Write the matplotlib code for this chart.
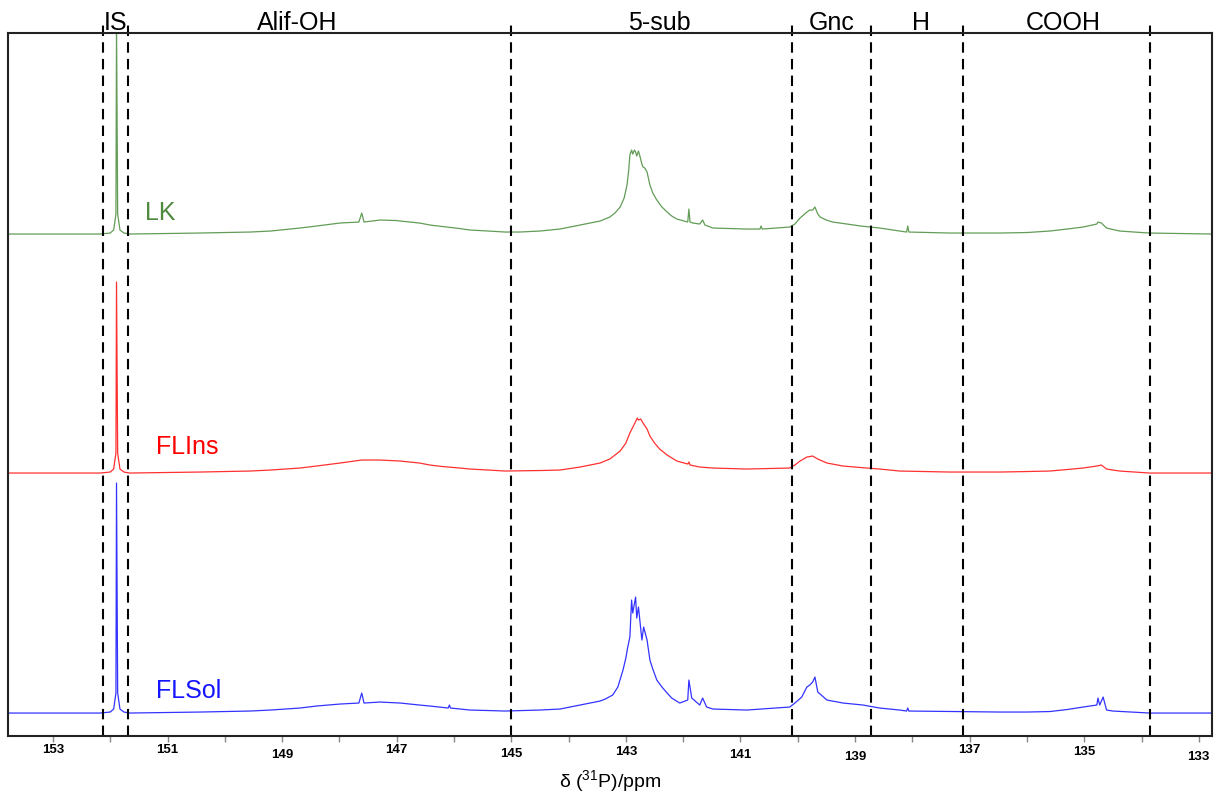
import matplotlib.pyplot as plt
import matplotlib.transforms as mtransforms

plt.rcParams['font.family'] = ['Liberation Sans', 'DejaVu Sans']
plt.rcParams['mathtext.fontset'] = 'custom'
plt.rcParams['mathtext.rm'] = 'Liberation Sans'
plt.rcParams['mathtext.it'] = 'Liberation Sans:italic'

# LK spectrum (ppm, height above its baseline)
lk_ppm = [153.78, 152.18, 152.00, 151.94, 151.90, 151.89, 151.87, 151.83, 151.76, 151.66,
          150.43, 150.00, 149.56, 149.20, 148.69, 148.40, 147.99, 147.66, 147.61, 147.57,
          147.29, 147.00, 146.94, 146.60, 146.42, 146.20, 145.90, 145.72, 145.40, 145.11,
          144.85, 144.50, 144.15, 143.80, 143.45, 143.28, 143.19, 143.10, 143.03, 142.98,
          142.95, 142.93, 142.90, 142.88, 142.85, 142.83, 142.81, 142.78, 142.76, 142.72,
          142.70, 142.67, 142.63, 142.58, 142.53, 142.46, 142.37, 142.28, 142.20, 142.11,
          141.92, 141.90, 141.88, 141.83, 141.71, 141.66, 141.62, 141.48, 140.89, 140.66,
          140.64, 140.62, 140.14, 140.05, 139.96, 139.90, 139.84, 139.79, 139.74, 139.70,
          139.65, 139.61, 139.50, 139.39, 139.14, 138.90, 138.57, 138.22, 138.10, 138.08,
          138.06, 137.35, 136.47, 136.00, 135.60, 135.30, 135.02, 134.78, 134.76, 134.70,
          134.61, 134.50, 134.38, 134.00, 133.86, 132.77]
lk_int = [0, 0, 1, 4, 20, 210, 20, 4, 1, 0,
          1, 1.5, 2, 3, 6, 8, 11, 12, 21, 12,
          14, 13.5, 13, 11, 9, 7.5, 5.5, 4, 3, 2,
          2, 3, 5, 9, 13, 17, 21, 27, 36, 49,
          64, 79, 84, 80, 84, 82, 78, 83, 79, 70,
          67, 66, 62, 49, 41, 34, 27, 22, 18, 15,
          12, 25, 12, 11, 10, 14, 9, 6, 5, 5,
          8, 5, 7, 10, 16, 19, 22, 24, 24, 27,
          20, 17, 14, 12, 10, 8, 6, 3, 2, 8,
          2, 1, 1, 1.5, 3, 5, 7, 10, 12, 11,
          6, 4.5, 3, 1.5, 1, 0]

# FLIns spectrum
fli_ppm = [153.78, 152.18, 152.00, 151.94, 151.90, 151.89, 151.87, 151.83, 151.76, 151.66,
           150.43, 150.00, 149.56, 149.20, 148.69, 148.40, 147.99, 147.61, 147.29, 146.94,
           146.60, 146.42, 146.20, 145.90, 145.72, 145.40, 145.11, 144.50, 144.15, 143.80,
           143.45, 143.28, 143.10, 143.00, 142.93, 142.86, 142.80, 142.78, 142.74, 142.70,
           142.63, 142.58, 142.50, 142.41, 142.28, 142.11, 141.92, 141.90, 141.88, 141.71,
           141.48, 140.89, 140.14, 140.05, 139.96, 139.84, 139.74, 139.65, 139.49, 139.21,
           138.90, 138.57, 138.22, 137.35, 136.47, 136.00, 135.60, 135.30, 135.02, 134.78,
           134.70, 134.61, 134.50, 134.38, 133.86, 132.77]
fli_int = [0, 0, 1, 4, 20, 191, 20, 4, 1, 0,
           1, 1.5, 2, 3, 5, 7, 10, 13, 13, 12,
           10, 8, 6.5, 5, 4, 3, 2, 2.5, 3, 6,
           10, 14, 22, 30, 40, 48, 55, 53, 54, 50,
           44, 37, 30, 24, 18, 12, 9, 11, 8, 6,
           5, 4, 5, 8, 12, 16, 17, 14, 10, 7,
           5.5, 4, 2, 1, 1, 1.5, 2, 3.5, 5, 7,
           8, 4, 3, 2, 0, 0]

# FLSol spectrum
fls_ppm = [153.78, 152.18, 152.00, 151.94, 151.90, 151.89, 151.87, 151.83, 151.76, 151.66,
           150.43, 150.00, 149.56, 149.20, 148.69, 148.40, 147.99, 147.66, 147.61, 147.57,
           147.29, 146.94, 146.60, 146.42, 146.10, 146.08, 146.06, 145.72, 145.40, 145.11,
           144.50, 144.15, 143.80, 143.45, 143.36, 143.23, 143.14, 143.05, 143.00, 142.97,
           142.93, 142.90, 142.88, 142.83, 142.81, 142.78, 142.72, 142.69, 142.63, 142.58,
           142.53, 142.46, 142.37, 142.28, 142.20, 142.06, 141.92, 141.90, 141.85, 141.71,
           141.66, 141.59, 141.48, 140.89, 140.14, 140.05, 139.93, 139.84, 139.79, 139.74,
           139.70, 139.65, 139.49, 139.21, 138.86, 138.57, 138.22, 138.10, 138.08, 138.06,
           136.47, 136.00, 135.60, 135.30, 135.02, 134.78, 134.76, 134.73, 134.67, 134.61,
           134.50, 133.86, 132.77]
fls_int = [0, 0, 1, 4, 20, 230, 20, 4, 1, 0,
           1, 1.5, 2, 3, 5, 7, 9, 10, 20, 10,
           11, 10, 8, 7, 5, 8, 5, 3, 2.5, 2,
           3, 4, 8, 12, 14, 18, 26, 43, 55, 65,
           76, 113, 100, 116, 95, 106, 73, 86, 73, 53,
           44, 33, 26, 20, 15, 10, 13, 33, 15, 8,
           15, 6, 4, 3, 6, 10, 16, 26, 28, 31,
           36, 21, 13, 10, 8, 5, 3, 2, 5, 2,
           1, 1, 1.5, 3.5, 6, 8, 15, 8, 16, 3,
           2, 0, 0]

spectra = [('LK', lk_ppm, lk_int, 502, '#629c56', '#4f8a3f'),
           ('FLIns', fli_ppm, fli_int, 263, '#ff3030', '#ff0000'),
           ('FLSol', fls_ppm, fls_int, 23, '#3333ff', '#1515ff')]
label_pos = {'LK': (151.13, 523), 'FLIns': (150.66, 289), 'FLSol': (150.63, 45)}

region_lines = [152.12, 151.69, 145.0, 140.1, 138.72, 137.12, 133.86]
region_names = ['IS', 'Alif-OH', '5-sub', 'Gnc', 'H', 'COOH']
region_pos = [151.90, 148.74, 142.41, 139.41, 137.85, 135.37]

tick_vals = [153, 151, 149, 147, 145, 143, 141, 139, 137, 135, 133]
tick_pads = [2, 2, 5, 2, 4.5, 3, 5, 6.5, 2, 3.5, 6.5]

fig = plt.figure(figsize=(12.22, 7.94), dpi=100)
ax = fig.add_axes([0.0065, 0.073, 0.9853, 0.8854])

for name, ppm, inten, off, col, tcol in spectra:
    ax.plot(ppm, [v + off for v in inten], color=col, lw=0.9)
    ax.text(label_pos[name][0], label_pos[name][1], name, color=tcol,
            fontsize=18, ha='center', va='center')

for p in region_lines:
    ax.axvline(p, ymin=0, ymax=1.0185, color='black', lw=1.5,
               ls=(0, (5, 3)), clip_on=False)

trans = mtransforms.blended_transform_factory(ax.transData, ax.transAxes)
for name, p in zip(region_names, region_pos):
    ax.text(p, 0.997, name, transform=trans, fontsize=18, ha='center', va='bottom')

ax.set_xlim(153.785, 132.77)
ax.set_ylim(0, 703)
ax.set_yticks([])
ax.set_xticks(tick_vals)
ax.set_xticks(range(134, 153, 2), minor=True)
ax.tick_params(axis='x', which='both', direction='out', length=4, width=1,
               color='#888888', labelsize=9.5)
for lab in ax.get_xticklabels():
    lab.set_fontweight('bold')
for t, pad in zip(ax.xaxis.get_major_ticks(), tick_pads):
    t.set_pad(pad)
for s in ax.spines.values():
    s.set_linewidth(1.5)
    s.set_color('#222222')

ax.set_xlabel(r'δ ($^{31}$P)/ppm', fontsize=14, labelpad=4)

fig.savefig('out.png', dpi=100)
